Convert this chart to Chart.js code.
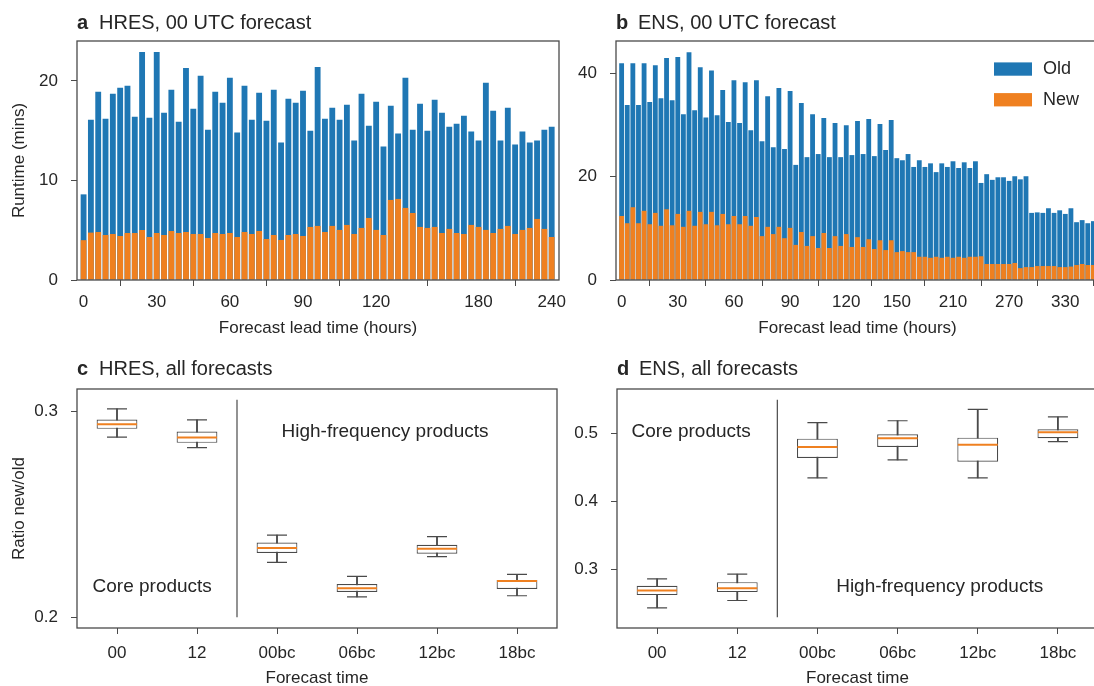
<!DOCTYPE html>
<html>
<head>
<meta charset="utf-8">
<script src="https://cdn.jsdelivr.net/npm/chart.js@4.4.1/dist/chart.umd.min.js"></script>
<style>
  html, body { margin: 0; padding: 0; background: #fff; }
  #wrap { position: relative; width: 1094px; height: 686px; overflow: hidden; }
  canvas { position: absolute; }
</style>
</head>
<body>
<div id="wrap">
  <canvas id="hresBars" width="580" height="345" style="left:0;top:0;width:580px;height:345px"></canvas>
  <canvas id="ensBars" width="580" height="345" style="left:540px;top:0;width:580px;height:345px"></canvas>
  <canvas id="hresBox" width="580" height="341" style="left:0;top:345px;width:580px;height:341px"></canvas>
  <canvas id="ensBox" width="580" height="341" style="left:540px;top:345px;width:580px;height:341px"></canvas>
</div>
<script>
// lead times (hours) for each bar
const hresHours = [0,3,6,9,12,15,18,21,24,27,30,33,36,39,42,45,48,51,54,57,60,63,66,69,72,75,78,81,84,87,90,93,96,99,102,105,108,111,114,117,120,123,126,129,132,135,138,141,144,150,156,162,168,174,180,186,192,198,204,210,216,222,228,234,240];
const ensHours = [0,3,6,9,12,15,18,21,24,27,30,33,36,39,42,45,48,51,54,57,60,63,66,69,72,75,78,81,84,87,90,93,96,99,102,105,108,111,114,117,120,123,126,129,132,135,138,141,144,150,156,162,168,174,180,186,192,198,204,210,216,222,228,234,240,246,252,258,264,270,276,282,288,294,300,306,312,318,324,330,336,342,348,354,360];
const hresTickHours = [0, 30, 60, 90, 120, 180, 240];
const ensTickHours = [0, 30, 60, 90, 120, 150, 210, 270, 330];
const hresRuntimeTicks = [0, 10, 20];
const ensRuntimeTicks = [0, 20, 40];

// runtimes in minutes
const hresOld = [8.6,16.1,18.9,16.2,18.7,19.3,19.5,16.4,22.9,16.3,22.9,16.8,19.1,15.9,21.3,17.2,20.5,15.1,18.9,17.8,20.3,14.8,19.5,16.1,18.8,16.0,19.1,13.8,18.2,17.8,19.0,15.0,21.4,16.2,17.3,
  16.1,17.6,14.0,18.7,15.5,17.9,13.4,17.5,14.7,20.3,15.1,17.7,15.0,18.1,16.8,15.4,15.7,16.5,14.9,14.0,19.8,17.0,14.0,17.3,13.6,14.9,13.8,14.0,15.1,15.4];
const hresNew = [4.0,4.76,4.82,4.52,4.62,4.42,4.72,4.72,5.02,4.32,4.72,4.52,4.92,4.72,4.82,4.62,4.62,4.22,4.72,4.62,4.72,4.32,4.82,4.62,4.92,4.12,4.52,4.02,4.52,4.62,4.42,5.33,5.43,4.82,5.43,
  5.03,5.53,4.62,5.23,6.23,5.03,4.52,8.04,8.14,7.24,6.73,5.33,5.23,5.33,4.72,5.13,4.72,4.62,5.53,5.33,5.03,4.72,5.13,5.43,4.62,5.03,5.23,6.13,5.13,4.32];
const ensOld = [42.0,33.9,42.0,33.9,42.0,34.5,41.6,35.2,43.0,34.8,43.2,32.1,44.1,32.9,41.2,31.5,40.6,31.9,36.8,30.6,38.7,30.4,38.3,29.0,38.7,26.9,35.6,25.7,37.2,25.4,36.6,22.3,34.3,23.8,32.1,24.4,31.4,23.8,30.4,23.8,
  30.0,24.2,30.8,24.4,31.2,24.0,30.2,25.2,31.0,23.6,23.2,24.4,21.9,23.2,21.9,22.6,20.9,22.6,21.9,23.0,21.7,22.8,21.7,23.0,
  18.8,20.5,19.4,19.9,19.9,19.2,20.1,19.5,20.1,
  13.0,13.1,13.0,13.9,13.0,13.5,12.8,13.9,11.2,11.6,11.0,11.4];
const ensNew = [12.4,11.0,14.1,11.0,13.4,10.8,13.0,10.5,13.7,10.6,12.8,10.3,13.4,10.5,13.2,10.8,13.2,10.6,12.8,10.8,12.4,10.8,12.4,10.5,12.2,8.5,10.3,8.9,10.3,8.1,10.1,6.8,9.3,6.6,8.5,6.2,9.1,6.2,8.5,6.6,
  8.9,6.4,8.3,6.4,7.9,6.0,7.7,5.8,7.7,5.4,5.6,5.4,5.4,4.5,4.5,4.3,4.5,4.3,4.5,4.3,4.5,4.3,4.5,4.5,
  4.6,3.1,3.1,3.1,3.1,3.1,3.3,2.3,2.5,
  2.5,2.7,2.7,2.7,2.7,2.5,2.5,2.6,2.9,3.1,2.9,2.9];

// ratio new/old box plots
const forecastTimes = ['00', '12', '00bc', '06bc', '12bc', '18bc'];
const hresLo  = [0.2876, 0.2825, 0.2266, 0.2098, 0.2294, 0.2104];
const hresQ1  = [0.2916, 0.2848, 0.2312, 0.2122, 0.2308, 0.2137];
const hresMed = [0.2939, 0.2874, 0.2336, 0.2140, 0.2333, 0.2176];
const hresQ3  = [0.2961, 0.2903, 0.2363, 0.2161, 0.2352, 0.2180];
const hresHi  = [0.3013, 0.2960, 0.2399, 0.2198, 0.2392, 0.2208];
const ensLo  = [0.2442, 0.2549, 0.4346, 0.4609, 0.4346, 0.4877];
const ensQ1  = [0.2628, 0.2672, 0.4638, 0.4799, 0.4584, 0.4927];
const ensMed = [0.2696, 0.2730, 0.4799, 0.4927, 0.4833, 0.5015];
const ensQ3  = [0.2764, 0.2818, 0.4921, 0.4985, 0.4936, 0.5059];
const ensHi  = [0.2867, 0.2935, 0.5156, 0.5184, 0.5351, 0.5239];
const hresRatioTicks = [0.2, 0.3];
const ensRatioTicks = [0.3, 0.4, 0.5];

const FONT = '"Liberation Sans", Arial, sans-serif';
const TEXT = '#262626';
const EDGE = '#4a4a4a';
const BLUE = '#1f77b4';
const ORANGE = '#ef8020';

Chart.defaults.font.family = FONT;
Chart.defaults.font.size = 17;
Chart.defaults.color = TEXT;
Chart.defaults.animation = false;

// frame, panel title, divider, notes and legend
function deco(opts) {
  return {
    id: 'deco',
    afterDraw(chart) {
      const ctx = chart.ctx, a = chart.chartArea;
      const h = a.bottom - a.top;
      ctx.save();
      ctx.strokeStyle = EDGE;
      ctx.lineWidth = 1.3;
      ctx.strokeRect(a.left, a.top, a.right - a.left, h);

      ctx.fillStyle = TEXT;
      ctx.textAlign = 'left';
      ctx.textBaseline = 'alphabetic';
      ctx.font = 'bold 20px ' + FONT;
      ctx.fillText(opts.letter, a.left, a.top - opts.titleGap);
      ctx.font = '20px ' + FONT;
      ctx.fillText(opts.title, a.left + 22, a.top - opts.titleGap);

      if (opts.divider !== undefined) {
        const x = chart.scales.x.getPixelForValue(opts.divider);
        ctx.lineWidth = 1.2;
        ctx.beginPath();
        ctx.moveTo(x, a.bottom - 0.045 * h);
        ctx.lineTo(x, a.bottom - 0.955 * h);
        ctx.stroke();
      }

      (opts.notes || []).forEach(n => {
        ctx.font = '19px ' + FONT;
        ctx.textAlign = 'center';
        ctx.textBaseline = 'middle';
        ctx.fillText(n.text, chart.scales.x.getPixelForValue(n.x), chart.scales.y.getPixelForValue(n.y));
      });

      if (opts.legend) {
        chart.data.datasets.forEach((ds, i) => {
          const y = a.top + 28 + i * 30.7;
          ctx.fillStyle = ds.backgroundColor;
          ctx.fillRect(a.left + 378, y - 6.6, 38, 13.3);
          ctx.fillStyle = TEXT;
          ctx.font = '18px ' + FONT;
          ctx.textAlign = 'left';
          ctx.textBaseline = 'middle';
          ctx.fillText(ds.label, a.left + 427, y);
        });
      }
      ctx.restore();
    }
  };
}

function barPanel(id, hours, tickHours, oldVals, newVals, xMin, xMax, yMax, yTicks, yTitle, barPct, yWidth, decoOpts) {
  new Chart(document.getElementById(id), {
    type: 'bar',
    data: {
      datasets: [
        { label: 'Old', data: oldVals.map((v, i) => ({ x: i, y: v })), backgroundColor: BLUE,
          grouped: false, order: 2, barPercentage: barPct, categoryPercentage: 1 },
        { label: 'New', data: newVals.map((v, i) => ({ x: i, y: v })), backgroundColor: ORANGE,
          grouped: false, order: 1, barPercentage: barPct, categoryPercentage: 1 }
      ]
    },
    options: {
      responsive: false,
      layout: { padding: { top: 41, right: 21, left: 0, bottom: 0 } },
      plugins: { legend: { display: false }, tooltip: { enabled: false } },
      scales: {
        x: {
          type: 'linear', min: xMin, max: xMax, offset: false,
          afterBuildTicks: s => { s.ticks = tickHours.map(h => ({ value: hours.indexOf(h) })); },
          afterFit: s => { s.height = 65; },
          ticks: { callback: v => hours[v], autoSkip: false, maxRotation: 0, padding: 6 },
          grid: { drawOnChartArea: false, tickLength: 6, color: EDGE },
          border: { display: false },
          title: { display: true, text: 'Forecast lead time (hours)', padding: { top: 0, bottom: 6 } }
        },
        y: {
          min: 0, max: yMax,
          afterBuildTicks: s => { s.ticks = yTicks.map(v => ({ value: v })); },
          afterFit: s => { s.width = yWidth; },
          ticks: { padding: 13 },
          grid: { drawOnChartArea: false, tickLength: 6, color: EDGE },
          border: { display: false },
          title: { display: !!yTitle, text: yTitle, padding: { top: 9, bottom: 0 } }
        }
      }
    },
    plugins: [deco(decoOpts)]
  });
}

function boxPanel(id, lo, q1, med, q3, hi, yMin, yMax, yTicks, yTitle, rightPad, decoOpts) {
  const line = (vals, r, color, w, order) => ({
    type: 'line', data: vals, showLine: false, pointStyle: 'line', pointRadius: r,
    pointHoverRadius: r, pointBorderColor: color, pointBorderWidth: w, borderColor: color, order: order
  });
  new Chart(document.getElementById(id), {
    type: 'bar',
    data: {
      labels: forecastTimes,
      datasets: [
        { data: lo.map((v, i) => [v, hi[i]]), backgroundColor: EDGE, barThickness: 1.2, grouped: false, order: 5 },
        { data: q1.map((v, i) => [v, q3[i]]), backgroundColor: '#ffffff', borderColor: EDGE, borderWidth: 1.2,
          borderSkipped: false, barPercentage: 0.51, categoryPercentage: 1, grouped: false, order: 4 },
        line(lo, 10, EDGE, 1.2, 3),
        line(hi, 10, EDGE, 1.2, 2),
        line(med, 20, ORANGE, 2, 1)
      ]
    },
    options: {
      responsive: false,
      layout: { padding: { top: 44, right: rightPad, left: 0, bottom: 0 } },
      plugins: { legend: { display: false }, tooltip: { enabled: false } },
      scales: {
        x: {
          afterFit: s => { s.height = 58; },
          ticks: { padding: 9, maxRotation: 0 },
          grid: { drawOnChartArea: false, offset: false, tickLength: 6, color: EDGE },
          border: { display: false },
          title: { display: true, text: 'Forecast time', padding: { top: 0, bottom: -3 } }
        },
        y: {
          min: yMin, max: yMax,
          afterBuildTicks: s => { s.ticks = yTicks.map(v => ({ value: v })); },
          afterFit: s => { s.width = 77; },
          ticks: { callback: v => v.toFixed(1), padding: 13 },
          grid: { drawOnChartArea: false, tickLength: 6, color: EDGE },
          border: { display: false },
          title: { display: !!yTitle, text: yTitle, padding: { top: 9, bottom: 0 } }
        }
      }
    },
    plugins: [deco(decoOpts)]
  });
}

barPanel('hresBars', hresHours, hresTickHours, hresOld, hresNew, -0.9, 65, 24, hresRuntimeTicks, 'Runtime (mins)', 0.8, 77,
  { letter: 'a', title: 'HRES, 00 UTC forecast', titleGap: 12 });
barPanel('ensBars', ensHours, ensTickHours, ensOld, ensNew, -1, 85, 46.3, ensRuntimeTicks, '', 0.86, 76,
  { letter: 'b', title: 'ENS, 00 UTC forecast', titleGap: 12, legend: true });

boxPanel('hresBox', hresLo, hresQ1, hresMed, hresQ3, hresHi, 0.1947, 0.3110, hresRatioTicks, 'Ratio new/old', 23,
  { letter: 'c', title: 'HRES, all forecasts', titleGap: 14, divider: 1.5,
    notes: [{ text: 'High-frequency products', x: 3.35, y: 0.2903 }, { text: 'Core products', x: 0.44, y: 0.2149 }] });
boxPanel('ensBox', ensLo, ensQ1, ensMed, ensQ3, ensHi, 0.2146, 0.5649, ensRatioTicks, '', 22,
  { letter: 'd', title: 'ENS, all forecasts', titleGap: 14, divider: 1.5,
    notes: [{ text: 'Core products', x: 0.425, y: 0.5023 }, { text: 'High-frequency products', x: 3.525, y: 0.2756 }] });
</script>
</body>
</html>
